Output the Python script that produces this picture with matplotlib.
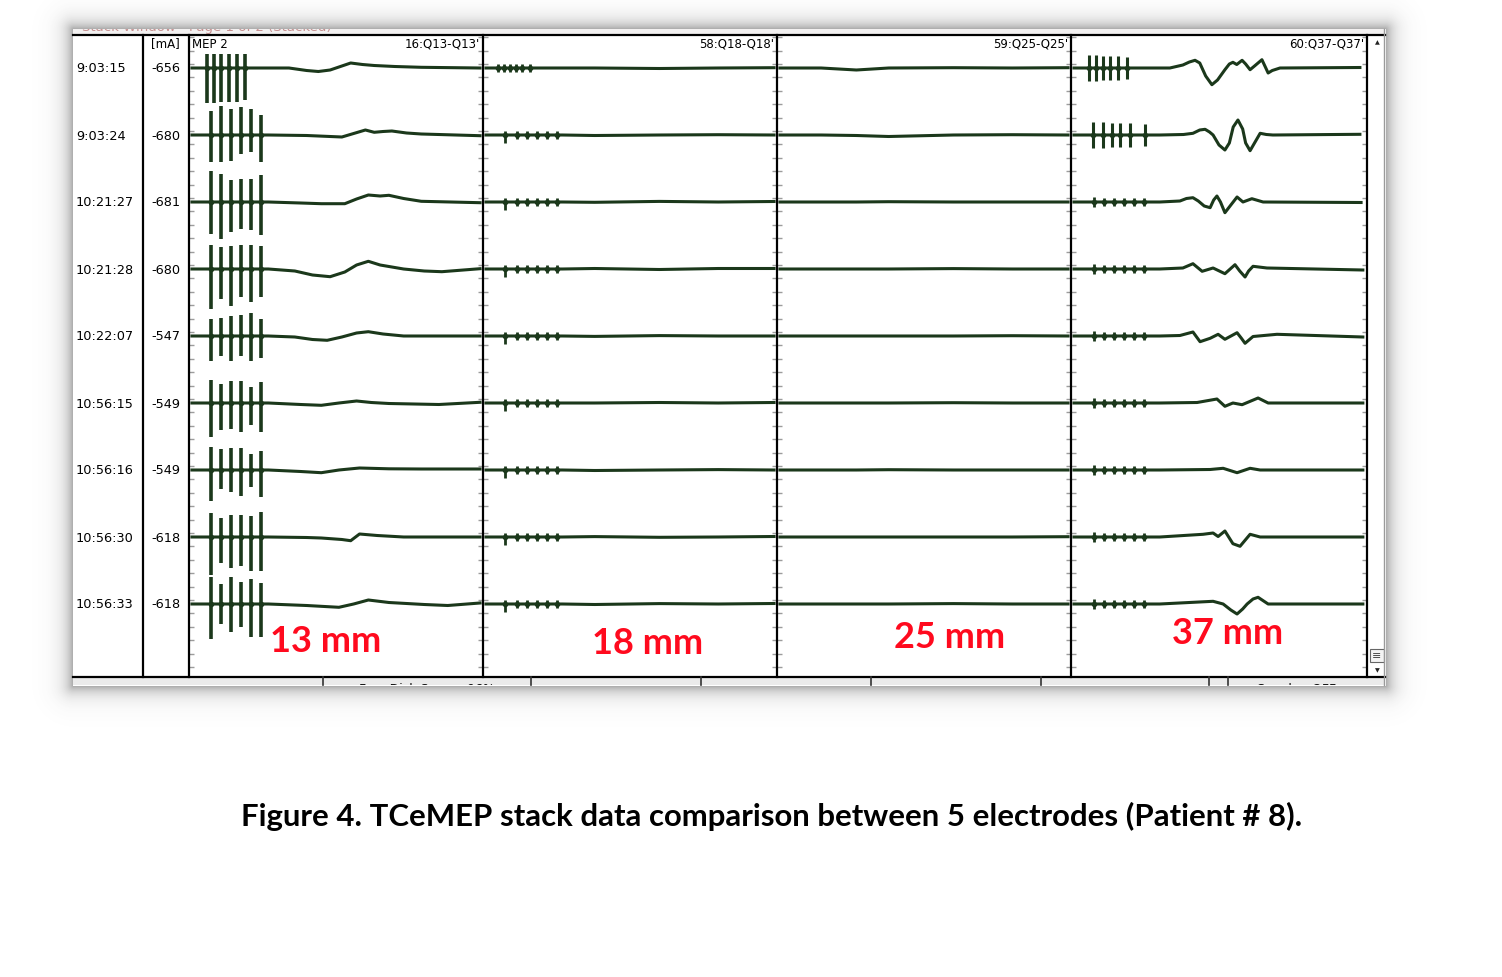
import numpy as np
import matplotlib.pyplot as plt
from matplotlib.patches import Rectangle

# ── Row labels ────────────────────────────────────────────────────────────────
times = ["9:03:15", "9:03:24", "10:21:27", "10:21:28", "10:22:07",
         "10:56:15", "10:56:16", "10:56:30", "10:56:33"]
ma_values = [-656, -680, -681, -680, -547, -549, -549, -618, -618]

channels = ["16:Q13-Q13'", "58:Q18-Q18'", "59:Q25-Q25'", "60:Q37-Q37'"]
distances = ["13 mm", "18 mm", "25 mm", "37 mm"]
caption = "Figure 4. TCeMEP stack data comparison between 5 electrodes (Patient # 8)."

# ── Stimulus artefacts (ms, heights up / down) ────────────────────────────────
p1_spike_ms_first = [6.1, 8.5, 10.9, 13.6, 16.3, 19.0]
p1_spike_ms = [7.5, 10.9, 14.3, 17.7, 21.1, 24.5]
p1_spike_up = [[14, 14, 14, 14, 14, 14],
               [24, 29, 26, 28, 26, 20],
               [31, 28, 22, 23, 23, 27],
               [24, 22, 23, 24, 24, 23],
               [17, 18, 20, 21, 23, 17],
               [23, 19, 22, 22, 16, 21],
               [23, 21, 22, 22, 16, 19],
               [24, 19, 22, 22, 21, 25],
               [27, 20, 27, 22, 25, 21]]
p1_spike_down = [[35, 35, 34, 34, 34, 32],
                 [27, 27, 26, 19, 17, 27],
                 [32, 37, 30, 27, 28, 33],
                 [40, 30, 37, 28, 33, 28],
                 [25, 20, 25, 20, 25, 22],
                 [34, 27, 26, 29, 22, 29],
                 [31, 19, 22, 26, 17, 27],
                 [38, 26, 31, 29, 34, 34],
                 [35, 20, 28, 23, 33, 33]]

p2_spike_ms_first = [5.1, 7.1, 9.2, 11.2, 13.3, 16.0]
p2_spike_ms = [7.5, 11.6, 15.0, 18.4, 21.8, 25.2]
p2_spike_up = [4, 4, 4, 4, 4, 4]
p2_spike_down = [8, 4, 4, 4, 4, 4]

p4_spike_ms_first = [6.1, 8.4, 10.8, 13.2, 15.9, 18.9]
p4_spike_ms_second = [7.4, 10.8, 13.9, 16.6, 19.9, 25.0]
p4_spike_ms = [7.8, 11.1, 14.5, 17.9, 21.3, 24.7]
p4_spike_big = [13, 13, 12, 12, 12, 11]
p4_spike_small = [5, 4, 4, 4, 4, 4]

# ── Responses: (ms, amplitude) key points per row ─────────────────────────────
p1_wave = [
    [(20, 0), (34, 0), (40, -2.5), (44, -3.5), (48, -2), (51, 1), (55, 5),
     (59, 3.5), (63, 2.5), (70, 1.5), (79, 0.7), (99, 0)],
    [(27, 0), (40, -0.5), (48, -1.5), (52, -2), (56, 1.5), (60, 5), (63, 2.7),
     (66, 3.5), (69, 4), (74, 2), (79, 1), (99, -0.7)],
    [(27, 0), (38, -1), (45, -1.7), (53, -1.7), (57, 3), (61, 7), (65, 6),
     (68, 6.7), (73, 3.5), (79, 0.7), (99, -0.7)],
    [(27, 0), (36, -2), (42, -6), (48, -7.7), (53, -3), (57, 4), (61, 7.7),
     (65, 4), (73, 0), (80, -2), (86, -2.7), (99, 0.3)],
    [(27, 0), (36, -1), (42, -3.5), (47, -4.3), (52, -1), (57, 3), (61, 4.3),
     (66, 2), (73, 0), (99, 0)],
    [(27, 0), (38, -1.5), (45, -2.3), (51, 0), (57, 2), (62, 0.5), (68, -0.5),
     (85, -1.5), (99, 0.7)],
    [(27, 0), (38, -1.5), (45, -2.7), (51, 0), (58, 2), (68, 1.2), (79, 1), (99, 1)],
    [(27, 0), (40, -0.5), (45, -1), (52, -2.5), (55, -3.7), (58, 3), (64, 1.5),
     (73, 0), (99, 0)],
    [(27, 0), (40, -1.5), (51, -3.3), (56, 0), (61, 4), (68, 1.5), (80, -0.5),
     (88, -1.5), (99, 1)],
]

flat_ms = [1, 15, 27, 38, 60, 80, 99]
p2_flat = [[0, 0, 0, 0, -0.5, 0, 0.3],
           [0, 0, 0, -0.5, 0, 0.3, 0],
           [0, 0, 0, -0.3, 0.6, 0, 0.5],
           [0, 0, 0, 0.5, -0.5, 0.5, 0.5],
           [0, 0, 0, -0.4, 0.4, 0, 0],
           [0, 0, 0, 0, 0.5, 0, 0.5],
           [0, 0, 0, -0.5, 0, 0.4, 0],
           [0, 0, 0, 0.4, -0.3, 0, 0.5],
           [0, 0, 0, -0.5, 0.4, 0, 0.5]]
p3_flat = [[0, 0, -2, 0, 0.3, 0, 0.3],
           [0, 0, -0.5, -1.5, 0, 0.3, 0],
           [0, 0, 0, 0.3, 0, 0, 0],
           [0, 0, 0, 0, 0.4, 0, 0],
           [0, 0, 0, 0, 0, 0.3, 0],
           [0, 0, 0, 0, 0.3, 0, 0],
           [0, 0, 0, 0.3, 0, 0, 0],
           [0, 0, 0, 0, 0, 0, 0.3],
           [0, 0, 0, 0, 0.4, 0, 0]]

p4_wave = [
    [(33.4, 0), (37.8, 3), (40, 6), (41.9, 7.7), (43.5, 5), (45.5, -8), (47.6, -16.7),
     (49.5, -12), (52.0, -1.7), (53.5, 4), (54.7, 5.7), (56, 3.5), (57.8, 7.7),
     (59, 4), (60.5, -1.7), (62, 2), (64.5, 8.3), (65.5, 2), (66.6, -5), (68, -2.5),
     (70.6, 0), (97.6, 0.5)],
    [(30, 0), (38, 0.5), (41.2, 1.7), (43.5, 5), (45.3, 5.7), (46.8, 3), (48.0, 0),
     (50, -10), (52.0, -15), (53.5, -8), (54.8, 8), (56.4, 15), (58, 6), (59, -8),
     (60.5, -15.7), (62, -8), (63.9, 1.7), (66, 0.5), (68.2, 0), (97.6, 0.7)],
    [(30, 0), (36.8, 1), (39, 3.5), (41.2, 4.3), (43, 1), (45, -4), (47.0, -5.7),
     (48.2, 2), (49.3, 6), (50.5, 0), (52.0, -10.7), (54, -3), (56.1, 5), (58.1, 0),
     (61.1, 3.3), (64.9, 0), (98, -0.5)],
    [(30, 0), (37.8, 1), (41.2, 5.3), (44.3, -2.3), (48.0, 1), (52.0, -4.7),
     (55.4, 4.3), (57, -2), (58.8, -8), (60, -2), (61.5, 2.7), (66.2, 1), (98.6, -1)],
    [(30, 0), (36.8, 0.5), (41.2, 4), (43.6, -5.7), (47.0, -2.3), (49.7, 1.7),
     (52.0, -3.3), (56.1, 3.3), (57.5, -2), (58.8, -7.3), (61.5, -0.5), (69.6, 1.7),
     (98.6, -1)],
    [(30, 0), (42.6, 0.5), (49.3, 4), (52.0, -3.3), (54.7, 0), (57.8, -1.7),
     (63.2, 5), (66.6, 0), (98.6, 0)],
    [(30, 0), (47.0, 0.5), (51.4, 1.7), (56.1, -2.7), (60.5, 1.7), (63.9, 0), (98.6, 0)],
    [(30, 0), (44.6, 2.7), (48.0, 4), (49.7, 0.5), (52.0, 6), (54.7, -6.7),
     (57.1, -9.3), (60.5, 2.7), (63.9, 0), (98.6, 0)],
    [(30, 0), (48.0, 2.7), (51.4, 0), (54, -6), (56.1, -10), (58, -5), (59.5, 0),
     (61.5, 5), (63.2, 6.7), (66.6, 0), (98.6, 0)],
]

# ── Layout (pixels) ───────────────────────────────────────────────────────────
W, H = 1502, 978
FX0, FX1, FY0, FY1 = 73, 1385, 30, 686       # screenshot frame
GRID_TOP, GRID_BOT = 36, 678
COL_EDGES = [143, 189, 483, 777, 1071, 1367]
ROW0, ROW_GAP = 69, 67
TRACE = '#1b381b'
UI_FONT = 'DejaVu Sans'

fig = plt.figure(figsize=(W / 100, H / 100), dpi=100)
bg = fig.add_axes([0, 0, 1, 1])
bg.set_xlim(0, W)
bg.set_ylim(H, 0)
bg.axis('off')

# soft drop shadow round the screenshot
yy, xx = np.mgrid[0:H, 0:W]
dx = np.maximum(np.maximum(FX0 - xx, xx - FX1), 0)
dy = np.maximum(np.maximum(FY0 - yy, yy - FY1), 0)
d = np.hypot(dx, dy)
shadow = np.zeros((H, W, 4))
shadow[..., :3] = 0.3
shadow[..., 3] = np.where(d > 0, 0.5 * np.exp(-d / 8.5), 0)
bg.imshow(shadow, extent=(0, W, H, 0), aspect='auto', zorder=0)

bg.add_patch(Rectangle((FX0, FY0), FX1 - FX0, FY1 - FY0, fc='white', ec='none', zorder=1))
bg.add_patch(Rectangle((FX0, FY0), FX1 - FX0, GRID_TOP - FY0, fc='#f3f1f1', ec='none', zorder=1))
bg.add_patch(Rectangle((FX0, GRID_BOT), FX1 - FX0, FY1 - GRID_BOT, fc='#ebebeb', ec='none', zorder=1))

# window title, cut off at the top
title_clip = Rectangle((FX0, FY0), 400, GRID_TOP - FY0, transform=bg.transData)
t = bg.text(82, 28, "Stack Window - Page 1 of 2 (Stacked)", fontsize=9.5,
            color='#a04040', alpha=0.55, va='center', family=UI_FONT, zorder=2,
            clip_on=True)
t.set_clip_path(title_clip)

# status bar, cut off at the bottom
status_clip = Rectangle((FX0, GRID_BOT), FX1 - FX0, FY1 - GRID_BOT, transform=bg.transData)
for sx, s in [(427, "Free Disk Space: 96%"), (1297, "Speaker OFF")]:
    st = bg.text(sx, 689, s, fontsize=9, ha='center', va='center', family=UI_FONT,
                 color='#111111', zorder=4, clip_on=True)
    st.set_clip_path(status_clip)

# scroll bar
bg.text(1377, 43, u'\u25b2', fontsize=4.5, ha='center', va='center', color='#222222', zorder=4)
bg.text(1377, 671, u'\u25bc', fontsize=4.5, ha='center', va='center', color='#222222', zorder=4)
bg.add_patch(Rectangle((1370, 650), 14, 13, fc='#f4f4f4', ec='#666666', lw=0.8, zorder=4))
bg.text(1377, 656.5, u'\u2261', fontsize=8, ha='center', va='center', color='#444444', zorder=5)

# header row
bg.text(165, 44, "[mA]", fontsize=8.5, ha='center', va='center', family=UI_FONT, zorder=4)
bg.text(192, 44, "MEP 2", fontsize=8.5, ha='left', va='center', family=UI_FONT, zorder=4)
for p, ch in enumerate(channels):
    bg.text(COL_EDGES[p + 2] - 3, 44, ch, fontsize=8.5, ha='right', va='center',
            family=UI_FONT, zorder=4)

# row labels
for i, (tm, ma) in enumerate(zip(times, ma_values)):
    y = ROW0 + ROW_GAP * i
    bg.text(76, y, tm, fontsize=9.3, ha='left', va='center', family=UI_FONT, zorder=4)
    bg.text(166, y, str(ma), fontsize=9.3, ha='center', va='center', family=UI_FONT, zorder=4)


# ── Trace panels ──────────────────────────────────────────────────────────────
def px_box(x0, y0, x1, y1):
    return [x0 / W, 1 - y1 / H, (x1 - x0) / W, (y1 - y0) / H]


def draw_spikes(ax, ms, up, down, base, lw):
    ax.vlines(ms, [base - v for v in down], [base + v for v in up], color=TRACE, lw=lw, zorder=3)
    ax.plot(ms, [base] * len(ms), 'o', ms=3, color=TRACE, zorder=3)


axes = []
for p in range(4):
    ax = fig.add_axes(px_box(COL_EDGES[p + 1], GRID_TOP, COL_EDGES[p + 2], GRID_BOT))
    ax.set_xlim(0, 100)
    ax.set_ylim(-(GRID_BOT - GRID_TOP), 0)
    ax.patch.set_alpha(0)
    for sp in ax.spines.values():
        sp.set_visible(False)
    ax.set_xticks([])
    ax.set_yticks(np.arange(-(GRID_BOT - GRID_TOP) + 10, 0, ROW_GAP / 5))
    ax.tick_params(axis='y', direction='in', length=3.5, width=1, color='#9c9c9c',
                   left=True, right=True, labelleft=False)
    axes.append(ax)

for i in range(len(times)):
    base = -(ROW0 - GRID_TOP) - ROW_GAP * i

    # 13 mm
    ax = axes[0]
    wx = [1] + [q[0] for q in p1_wave[i]]
    wy = [0] + [q[1] for q in p1_wave[i]]
    ax.plot(wx, [base + v for v in wy], color=TRACE, lw=2.2, zorder=2,
            solid_joinstyle='round')
    draw_spikes(ax, p1_spike_ms_first if i == 0 else p1_spike_ms,
                p1_spike_up[i], p1_spike_down[i], base, 2.6)

    # 18 mm
    ax = axes[1]
    ax.plot(flat_ms, [base + v for v in p2_flat[i]], color=TRACE, lw=2.2, zorder=2)
    if i == 0:
        draw_spikes(ax, p2_spike_ms_first, p2_spike_up, p2_spike_up, base, 2)
    else:
        draw_spikes(ax, p2_spike_ms, p2_spike_up, p2_spike_down, base, 2)

    # 25 mm
    ax = axes[2]
    ax.plot(flat_ms, [base + v for v in p3_flat[i]], color=TRACE, lw=2.2, zorder=2)

    # 37 mm
    ax = axes[3]
    wx = [1] + [q[0] for q in p4_wave[i]]
    wy = [0] + [q[1] for q in p4_wave[i]]
    ax.plot(wx, [base + v for v in wy], color=TRACE, lw=2.2, zorder=2,
            solid_joinstyle='round')
    if i == 0:
        draw_spikes(ax, p4_spike_ms_first, p4_spike_big, p4_spike_big, base, 2.2)
    elif i == 1:
        draw_spikes(ax, p4_spike_ms_second, p4_spike_big, p4_spike_big, base, 2.2)
    else:
        draw_spikes(ax, p4_spike_ms, p4_spike_small, p4_spike_small, base, 2)

# ── Overlay: grid lines, labels, caption ──────────────────────────────────────
top = fig.add_axes([0, 0, 1, 1])
top.set_xlim(0, W)
top.set_ylim(H, 0)
top.axis('off')
top.patch.set_alpha(0)

top.plot([FX0, FX1], [GRID_TOP, GRID_TOP], color='black', lw=1.6)
top.plot([FX0, FX1], [GRID_BOT, GRID_BOT], color='black', lw=1.6)
for x in COL_EDGES:
    top.plot([x, x], [GRID_TOP, GRID_BOT], color='black', lw=1.6)
top.plot([FX1 - 1, FX1 - 1], [FY0, FY1], color='#9a9a9a', lw=1)
for x in [323, 531, 701, 871, 1041, 1209, 1228]:
    top.plot([x, x], [GRID_BOT, FY1], color='#333333', lw=1.2)

label_pos = [(326, 641), (648, 643), (950, 637), (1228, 633)]
for (lx, ly), s in zip(label_pos, distances):
    top.text(lx, ly, s, fontsize=26, fontweight='bold', color='#ff0a1e', family='Lato',
             ha='center', va='center')

top.text(772, 816, caption, fontsize=22.4, fontweight='bold', family='Lato',
         ha='center', va='center', color='black')

fig.savefig('out.png', dpi=100)
